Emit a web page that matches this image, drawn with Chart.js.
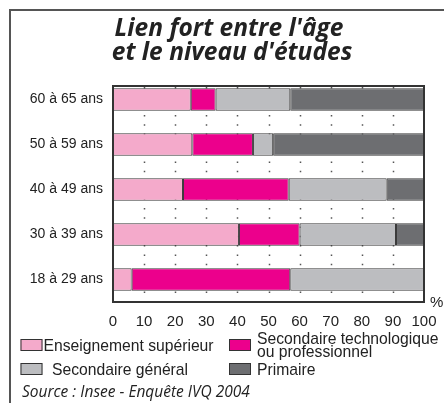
<!DOCTYPE html>
<html>
<head>
<meta charset="utf-8">
<script src="https://cdn.jsdelivr.net/npm/chart.js@4"></script>
<style>
  html, body { margin: 0; padding: 0; background: #fff; }
  #wrap { width: 444px; height: 403px; position: relative; }
</style>
</head>
<body>
<div id="wrap"><canvas id="eduChart"></canvas></div>
<script>
// age groups, top to bottom
const ageGroups = ['60 à 65 ans', '50 à 59 ans', '40 à 49 ans', '30 à 39 ans', '18 à 29 ans'];
// shares in %
const superieur = [25, 25.5, 22.5, 40.5, 6];
const secTechno = [8, 19.5, 34, 19.5, 51];
const secGeneral = [24, 6.5, 31.5, 31, 43];
const primaire = [43, 48.5, 12, 9, 0];
const xTicks = [0, 10, 20, 30, 40, 50, 60, 70, 80, 90, 100];

const sansFont = '"Liberation Sans", Arial, sans-serif';
const titleFont = '"Open Sans", Lato, sans-serif';

// frame, dotted grid and plot box
const decorPlugin = {
    id: 'decor',
    beforeDatasetsDraw(chart) {
        const ctx = chart.ctx;
        const x = chart.scales.x;
        const top = 86, bottom = chart.chartArea.bottom;
        ctx.save();
        ctx.strokeStyle = '#555';
        ctx.lineWidth = 1.5;
        ctx.setLineDash([1.5, 7.8]);
        xTicks.slice(1, -1).forEach(v => {
            const px = Math.round(x.getPixelForValue(v)) + 0.5;
            ctx.beginPath();
            ctx.moveTo(px, top + 1);
            ctx.lineTo(px, bottom);
            ctx.stroke();
        });
        ctx.restore();
    },
    afterDraw(chart) {
        const ctx = chart.ctx;
        const x = chart.scales.x;
        const left = x.getPixelForValue(0), right = x.getPixelForValue(100);
        const top = 86, bottom = chart.chartArea.bottom;
        ctx.save();
        // plot box
        ctx.strokeStyle = '#333';
        ctx.lineWidth = 2;
        ctx.strokeRect(left, top, right - left, bottom - top);
        // outer frame
        ctx.strokeStyle = '#555';
        ctx.beginPath();
        ctx.moveTo(10, 403);
        ctx.lineTo(10, 10);
        ctx.lineTo(444, 10);
        ctx.stroke();

        // title
        ctx.fillStyle = '#222';
        ctx.textAlign = 'center';
        ctx.textBaseline = 'alphabetic';
        ctx.font = 'italic bold 24.5px ' + titleFont;
        ctx.fillText("Lien fort entre l'âge", 229, 36);
        ctx.fillText("et le niveau d'études", 232, 60);

        // % unit
        ctx.font = '15px ' + sansFont;
        ctx.textAlign = 'left';
        ctx.fillText('%', 430, 307);

        // legend
        const ds = chart.data.datasets;
        const sw = [[20.5, 339], [229, 339], [20.5, 363], [229, 363]];
        ds.forEach((d, i) => {
            ctx.fillStyle = d.backgroundColor;
            ctx.fillRect(sw[i][0], sw[i][1], 22, 12);
            ctx.strokeStyle = '#333';
            ctx.lineWidth = 1;
            ctx.strokeRect(sw[i][0] + 0.5, sw[i][1] + 0.5, 21, 11);
        });
        ctx.fillStyle = '#222';
        ctx.font = '15.7px ' + sansFont;
        ctx.fillText('Enseignement supérieur', 43.5, 351);
        ctx.fillText('Secondaire technologique', 257, 344);
        ctx.fillText('ou professionnel', 257, 356.5);
        ctx.fillText('Secondaire général', 52, 375);
        ctx.fillText('Primaire', 257, 374.5);

        // source
        ctx.font = 'italic 15.5px ' + titleFont;
        ctx.fillText('Source : Insee - Enquête IVQ 2004', 22, 397);
        ctx.restore();
    }
};

const seriesStyle = { borderColor: '#3a3a3a', borderWidth: 1, borderSkipped: false,
    categoryPercentage: 1, barPercentage: 0.5 };

new Chart(document.getElementById('eduChart'), {
    type: 'bar',
    data: {
        labels: ageGroups,
        datasets: [
            { label: 'Enseignement supérieur', data: superieur, backgroundColor: '#f4aacb', ...seriesStyle },
            { label: 'Secondaire technologique ou professionnel', data: secTechno, backgroundColor: '#ec008c', ...seriesStyle },
            { label: 'Secondaire général', data: secGeneral, backgroundColor: '#bcbdc0', ...seriesStyle },
            { label: 'Primaire', data: primaire, backgroundColor: '#6d6e71', ...seriesStyle }
        ]
    },
    options: {
        indexAxis: 'y',
        responsive: true,
        maintainAspectRatio: false,
        animation: false,
        layout: { padding: { top: 77, right: 20, bottom: 71, left: 0 } },
        plugins: { legend: { display: false }, tooltip: { enabled: false } },
        scales: {
            x: {
                stacked: true, min: 0, max: 100,
                afterBuildTicks: s => { s.ticks = xTicks.map(v => ({ value: v })); },
                afterFit: s => { s.height = 30; s.paddingLeft = 0; s.paddingRight = 0; },
                grid: { display: false, drawTicks: false },
                border: { display: false },
                ticks: { color: '#222', padding: 11, font: { family: sansFont, size: 15 }, maxRotation: 0 }
            },
            y: {
                stacked: true,
                afterFit: s => { s.width = 113; },
                grid: { display: false, drawTicks: false },
                border: { display: false },
                ticks: { color: '#222', padding: 10, font: { family: sansFont, size: 14 } }
            }
        }
    },
    plugins: [decorPlugin]
});
</script>
</body>
</html>
